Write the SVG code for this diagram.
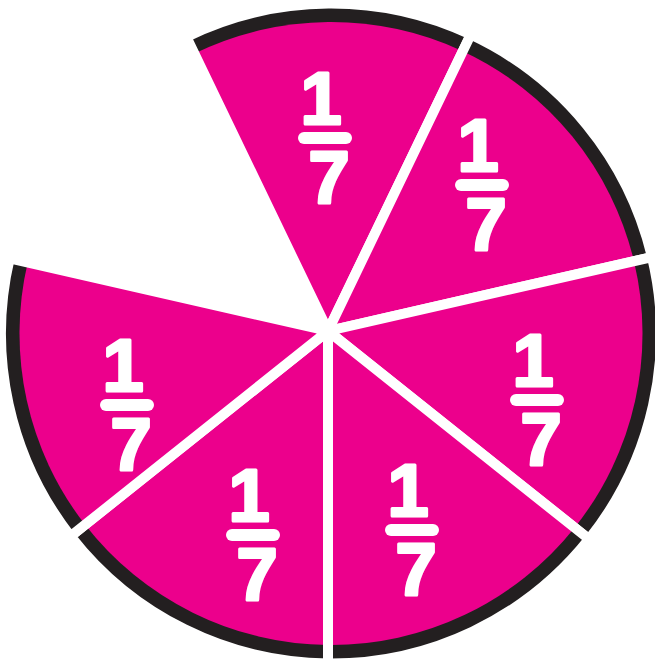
<svg xmlns="http://www.w3.org/2000/svg" width="655" height="660" viewBox="0 0 655 660">
<style>
.ring{fill:#231f20}
.fill{fill:#ec008c}
.gap{fill:none;stroke:#ffffff;stroke-width:10;stroke-linejoin:miter}
.num{font-family:"Liberation Sans",Arial,sans-serif;font-weight:700;font-size:74px;fill:#ffffff;stroke:#ffffff;stroke-width:3;stroke-linejoin:round;text-anchor:middle}
.bar{stroke:#ffffff;stroke-width:12;stroke-linecap:round}
</style>
<rect width="655" height="660" fill="#ffffff"/>
<g id="piece-top">
<path class="ring" d="M328,331 L186.36,36.89 A330,330 0 0 1 470.76,34.55 Z"/>
<path class="fill" d="M328,331 L194.39,53.56 A311.5,311.5 0 0 1 462.73,51.22 Z"/>
<path class="gap" d="M328,331 L186.36,36.89 A330,330 0 0 1 470.76,34.55 Z"/>
<text class="num" x="321" y="123.5">1</text>
<line class="bar" x1="304" y1="138" x2="346" y2="138"/>
<text class="num" x="329" y="202.5">7</text>
</g>
<g id="piece-upper-right">
<path class="ring" d="M328,331 L470.76,34.55 A330,330 0 0 1 652.02,257.05 Z"/>
<path class="fill" d="M328,331 L462.73,51.22 A311.5,311.5 0 0 1 633.98,261.16 Z"/>
<path class="gap" d="M328,331 L470.76,34.55 A330,330 0 0 1 652.02,257.05 Z"/>
<text class="num" x="478" y="170.5">1</text>
<line class="bar" x1="461" y1="185" x2="503" y2="185"/>
<text class="num" x="486" y="249.5">7</text>
</g>
<g id="piece-right">
<path class="ring" d="M328,331 L652.02,257.05 A330,330 0 0 1 589.05,539.18 Z"/>
<path class="fill" d="M328,331 L633.98,261.16 A311.5,311.5 0 0 1 574.59,527.65 Z"/>
<path class="gap" d="M328,331 L652.02,257.05 A330,330 0 0 1 589.05,539.18 Z"/>
<text class="num" x="533" y="385.5">1</text>
<line class="bar" x1="516" y1="400" x2="558" y2="400"/>
<text class="num" x="541" y="464.5">7</text>
</g>
<g id="piece-lower-right">
<path class="ring" d="M328,331 L589.05,539.18 A330,330 0 0 1 328,663.49 Z"/>
<path class="fill" d="M328,331 L574.59,527.65 A311.5,311.5 0 0 1 328,644.99 Z"/>
<path class="gap" d="M328,331 L589.05,539.18 A330,330 0 0 1 328,663.49 Z"/>
<text class="num" x="408" y="515.5">1</text>
<line class="bar" x1="391" y1="530" x2="433" y2="530"/>
<text class="num" x="416" y="594.5">7</text>
</g>
<g id="piece-lower-left">
<path class="ring" d="M328,331 L328,663.49 A330,330 0 0 1 70.63,536.25 Z"/>
<path class="fill" d="M328,331 L328,644.99 A311.5,311.5 0 0 1 85.09,524.71 Z"/>
<path class="gap" d="M328,331 L328,663.49 A330,330 0 0 1 70.63,536.25 Z"/>
<text class="num" x="249" y="520.5">1</text>
<line class="bar" x1="232" y1="535" x2="274" y2="535"/>
<text class="num" x="257" y="599.5">7</text>
</g>
<g id="piece-left">
<path class="ring" d="M328,331 L70.63,536.25 A330,330 0 0 1 9.68,258.35 Z"/>
<path class="fill" d="M328,331 L85.09,524.71 A311.5,311.5 0 0 1 27.71,262.46 Z"/>
<path class="gap" d="M328,331 L70.63,536.25 A330,330 0 0 1 9.68,258.35 Z"/>
<text class="num" x="123" y="390.5">1</text>
<line class="bar" x1="106" y1="405" x2="148" y2="405"/>
<text class="num" x="131" y="469.5">7</text>
</g>
<g id="connectors"/>
</svg>
